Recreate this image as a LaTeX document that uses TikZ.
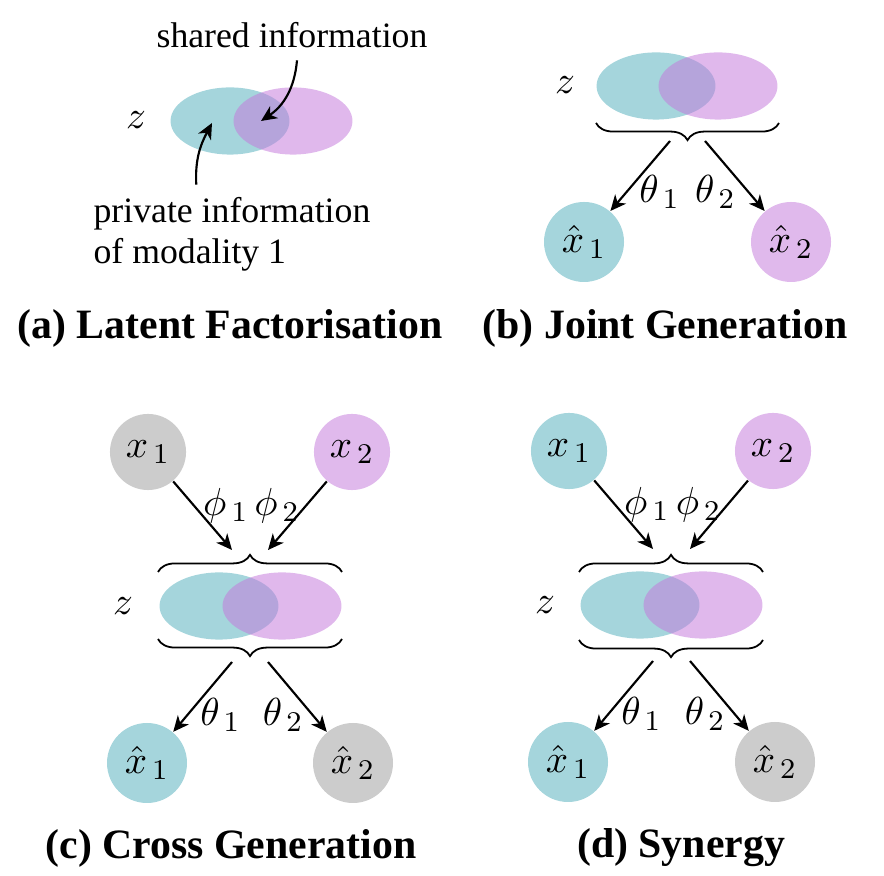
\documentclass[tikz,border=0pt]{standalone}
\usepackage[no-math]{fontspec}
\setmainfont{Liberation Serif}
\usepackage{tikz}
\usetikzlibrary{shapes.geometric, arrows, arrows.meta, positioning, decorations.pathreplacing, calc}
\definecolor{tealz}{RGB}{165,213,220}
\definecolor{pinkz}{RGB}{224,185,236}
\definecolor{pinkdeep}{RGB}{196,121,219}
\definecolor{greyz}{RGB}{204,204,204}
\tikzset{
  lat1/.style={ellipse, minimum width=33.3pt, minimum height=18.8pt, inner sep=0pt, fill=tealz},
  lat2/.style={ellipse, minimum width=33.3pt, minimum height=18.8pt, inner sep=0pt, fill=pinkdeep, fill opacity=0.53},
  obs/.style={circle, minimum size=21.3pt, inner sep=0pt, font=\fontsize{11}{13}\selectfont},
  rec/.style={circle, minimum size=22.4pt, inner sep=0pt, font=\fontsize{11}{13}\selectfont},
  sym/.style={font=\fontsize{11}{13}\selectfont},
  arrow/.style={line width=0.6pt, ->, >={Stealth[length=4.4pt, width=4pt, inset=1.3pt]}},
  brace/.style={decorate, decoration={brace, amplitude=4.8pt}, line width=0.5pt},
  title/.style={font=\fontsize{11.7}{14}\selectfont\bfseries},
  note/.style={align=left, font=\fontsize{10}{11.4}\selectfont}
}

\begin{document}
\begin{tikzpicture}[x=0.28pt, y=0.28pt]
\useasboundingbox (0,0) rectangle (884,875);

% (a) latent factorisation
\node (za) [sym] at (136,755) {$z$};
\node (a1) [lat1] at (230,754) {};
\node (a2) [lat2] at (293,754) {};
\node (shared) at (292,840) {shared information};
\node (private) [note, anchor=west] at (81,641) {private information\\of modality 1};
\coordinate (sharedpt) at (261,754);
\coordinate (privpt) at (212,752);
\draw [arrow] ([xshift=1.4pt]shared.south) to[out=-95, in=34] (sharedpt);
\draw [arrow] ([xshift=-10pt]private.north) to[out=93, in=-118] (privpt);
\node (ta) [title] at (230,547) {(a) Latent Factorisation};

% (b) joint generation
\node (zb) [sym] at (565,790) {$z$};
\node (b1) [lat1] at (656,789) {};
\node (b2) [lat2] at (718,789) {};
\draw [brace] (779,752) -- (596,752);
\coordinate (bout1) at (670,734);
\coordinate (bout2) at (705,734);
\node (xhb1) [rec, fill=tealz] at (584,633) {$\hat{x}_{\,1}$};
\node (xhb2) [rec, fill=pinkz] at (791,633) {$\hat{x}_{\,2}$};
\draw [arrow] (bout1) -- (xhb1) node[sym, pos=0.73, right] {$\theta_{\,1}$};
\draw [arrow] (bout2) -- (xhb2) node[sym, pos=0.73, left] {$\theta_{\,2}$};
\node (tb) [title] at (665,547) {(b) Joint Generation};

% (c) cross generation
\node (xc1) [obs, fill=greyz] at (148,423) {$x_{\,1}$};
\node (xc2) [obs, fill=pinkz] at (352,423) {$x_{\,2}$};
\node (zc) [sym] at (123,269) {$z$};
\node (c1) [lat1] at (219,269) {};
\node (c2) [lat2] at (282,269) {};
\draw [brace] (158,303) -- (342,303);
\draw [brace] (342,236) -- (158,236);
\coordinate (cin1) at (232,325);
\coordinate (cin2) at (268,325);
\coordinate (cout1) at (232,213);
\coordinate (cout2) at (268,213);
\node (xhc1) [rec, fill=tealz] at (147,112) {$\hat{x}_{\,1}$};
\node (xhc2) [rec, fill=greyz] at (353,112) {$\hat{x}_{\,2}$};
\draw [arrow] (xc1) -- (cin1) node[sym, pos=0.35, right, xshift=-1pt] {$\phi_{\,1}$};
\draw [arrow] (xc2) -- (cin2) node[sym, pos=0.35, left, xshift=1.8pt] {$\phi_{\,2}$};
\draw [arrow] (cout1) -- (xhc1) node[sym, pos=0.76, right] {$\theta_{\,1}$};
\draw [arrow] (cout2) -- (xhc2) node[sym, pos=0.76, left, xshift=1pt] {$\theta_{\,2}$};
\node (tc) [title] at (231,27) {(c) Cross Generation};

% (d) synergy
\node (xd1) [obs, fill=tealz] at (569,424) {$x_{\,1}$};
\node (xd2) [obs, fill=pinkz] at (773,424) {$x_{\,2}$};
\node (zd) [sym] at (545,270) {$z$};
\node (d1) [lat1] at (640,270) {};
\node (d2) [lat2] at (703,270) {};
\draw [brace] (579,303) -- (763,303);
\draw [brace] (763,235) -- (579,235);
\coordinate (din1) at (653,326);
\coordinate (din2) at (690,326);
\coordinate (dout1) at (653,214);
\coordinate (dout2) at (690,214);
\node (xhd1) [rec, fill=tealz] at (568,113) {$\hat{x}_{\,1}$};
\node (xhd2) [rec, fill=greyz] at (775,113) {$\hat{x}_{\,2}$};
\draw [arrow] (xd1) -- (din1) node[sym, pos=0.35, right, xshift=-1pt] {$\phi_{\,1}$};
\draw [arrow] (xd2) -- (din2) node[sym, pos=0.35, left, xshift=1.8pt] {$\phi_{\,2}$};
\draw [arrow] (dout1) -- (xhd1) node[sym, pos=0.76, right] {$\theta_{\,1}$};
\draw [arrow] (dout2) -- (xhd2) node[sym, pos=0.76, left, xshift=1pt] {$\theta_{\,2}$};
\node (td) [title] at (681,27) {(d) Synergy};

\end{tikzpicture}
\end{document}
